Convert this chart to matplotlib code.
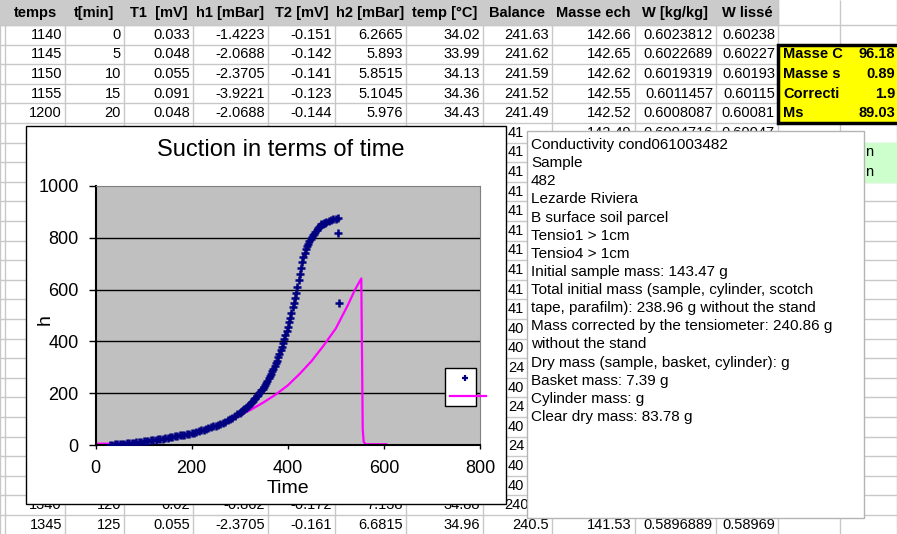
import matplotlib.pyplot as plt
from matplotlib.patches import Rectangle
from matplotlib.transforms import Bbox, TransformedBbox

plt.rcParams['font.family'] = ['Liberation Sans', 'DejaVu Sans']

# ---- chart data ----
# measured suction (h) vs time
meas_time = (list(range(30, 300, 5))
             + [300 + 2.5 * i for i in range(73)]
             + [485, 490, 495, 500, 505]
             + [505, 507])
meas_h = [0, 1, 2, 2, 3, 4, 5, 6, 7, 8, 9,
          11, 12, 13, 14, 15, 17, 18, 19, 21, 22,
          24, 25, 27, 28, 30, 32, 33, 35, 37, 38,
          40, 42, 43, 45, 48, 50, 53, 56, 59, 62,
          65, 68, 72, 75, 78, 82, 86, 90, 95, 100,
          105, 111, 118,
          # 300 -> 480 every 2.5 min
          125, 128, 132, 136, 140, 144, 148, 152, 156, 161,
          165, 170, 176, 182, 188, 193, 199, 205, 211, 217,
          224, 232, 240, 249, 258, 267, 276, 285, 295, 305,
          315, 326, 338, 351, 365, 380, 395, 410, 425, 440,
          456, 473, 490, 511, 532, 550, 568, 588, 610, 636,
          662, 685, 705, 724, 742, 756, 768, 777, 786, 794,
          802, 809, 816, 823, 830, 836, 842, 847, 852, 855,
          857, 859, 861,
          864, 867, 871, 874, 878,
          820, 550]

# second series (line)
line_time = [0, 25, 50, 75, 100, 125, 150, 175, 200, 225, 250, 275, 300, 325,
             350, 375, 400, 425, 450, 475, 500, 525, 540, 553, 556, 558, 562, 605]
line_h = [5, 5, 7, 10, 13, 19, 27, 35, 44, 57, 72, 91, 114, 138,
          165, 195, 230, 275, 325, 385, 450, 540, 600, 643, 60, 12, 3, 3]

# ---- spreadsheet around the chart ----
col_edges = [0, 5, 65, 124, 193, 268, 335, 406, 483, 552, 635, 716, 778, 840, 897]
headers = ['temps', 't[min]', 'T1  [mV]', 'h1 [mBar]', 'T2 [mV]', 'h2 [mBar]',
           'temp [°C]', 'Balance', 'Masse ech', 'W [kg/kg]', 'W lissé']
rows = {
    0: ['1140', '0', '0.033', '-1.4223', '-0.151', '6.2665', '34.02', '241.63', '142.66', '0.6023812', '0.60238'],
    1: ['1145', '5', '0.048', '-2.0688', '-0.142', '5.893', '33.99', '241.62', '142.65', '0.6022689', '0.60227'],
    2: ['1150', '10', '0.055', '-2.3705', '-0.141', '5.8515', '34.13', '241.59', '142.62', '0.6019319', '0.60193'],
    3: ['1155', '15', '0.091', '-3.9221', '-0.123', '5.1045', '34.36', '241.52', '142.55', '0.6011457', '0.60115'],
    4: ['1200', '20', '0.048', '-2.0688', '-0.144', '5.976', '34.43', '241.49', '142.52', '0.6008087', '0.60081'],
    24: ['1340', '120', '0.02', '-0.862', '-0.172', '7.138', '34.88', '240.56'],
    25: ['1345', '125', '0.055', '-2.3705', '-0.161', '6.6815', '34.96', '240.5', '141.53', '0.5896889', '0.58969'],
}
# row partly hidden under the note box (Masse ech, W, W lissé)
row5 = ['142.49', '0.6004716', '0.60047']
# visible pieces of the Balance column between the chart and the note box
balance_bits = ['41'] * 10 + ['40', '40', '24', '40', '24', '40', '24', '40', '40']
yellow_labels = ['Masse C', 'Masse s', 'Correcti', 'Ms']
yellow_values = ['96.18', '0.89', '1.9', '89.03']
note_lines = ['Conductivity cond061003482', 'Sample', '482', 'Lezarde Riviera',
              'B surface soil parcel', 'Tensio1 > 1cm', 'Tensio4 > 1cm',
              'Initial sample mass: 143.47 g',
              'Total initial mass (sample, cylinder, scotch',
              'tape, parafilm): 238.96 g without the stand',
              'Mass corrected by the tensiometer: 240.86 g',
              'without the stand',
              'Dry mass (sample, basket, cylinder): g',
              'Basket mass: 7.39 g', 'Cylinder mass: g', 'Clear dry mass: 83.78 g']

W, H = 897, 534
fig = plt.figure(figsize=(W / 100, H / 100), dpi=100)
bg = fig.add_axes([0, 0, 1, 1])
bg.set_xlim(0, W)
bg.set_ylim(H, 0)
bg.axis('off')

head_h = 25
row_h = 19.6
grid_c = '#c8c8c8'
fs = 10.5

bg.add_patch(Rectangle((0, 0), 778, head_h, color='#cbcbcb', zorder=0))
bg.vlines(col_edges, head_h, H, color=grid_c, lw=1, zorder=0.5)
bg.vlines(col_edges[-3:], 0, head_h, color=grid_c, lw=1, zorder=0.5)
for k in range(27):
    bg.axhline(head_h + k * row_h, color=grid_c, lw=1, zorder=0.5)

for j, name in enumerate(headers):
    xc = (col_edges[j + 1] + col_edges[j + 2]) / 2
    bg.text(xc, 13, name, ha='center', va='center', fontsize=fs, fontweight='bold')

def row_y(k):
    return head_h + row_h * (k + 0.5)

for k, vals in rows.items():
    for j, v in enumerate(vals):
        bg.text(col_edges[j + 2] - 3, row_y(k), v, ha='right', va='center',
                fontsize=fs, zorder=1)

clip5 = TransformedBbox(Bbox([[0, 0], [W, 131]]), bg.transData)
for j, v in enumerate(row5):
    t = bg.text(col_edges[j + 10] - 3, row_y(5), v, ha='right', va='center',
                fontsize=fs, zorder=1, clip_on=True)
    t.set_clip_box(clip5)

for i, v in enumerate(balance_bits):
    bg.text(508, row_y(5 + i), v, ha='left', va='center', fontsize=fs, zorder=1)

# yellow summary block
bg.add_patch(Rectangle((778, head_h + row_h), 140, 4 * row_h, facecolor='#ffff00',
                       edgecolor='black', lw=2.5, zorder=2))
for i, (lab, v) in enumerate(zip(yellow_labels, yellow_values)):
    bg.text(783, row_y(1 + i), lab, ha='left', va='center', fontsize=fs,
            fontweight='bold', zorder=3)
    bg.text(895, row_y(1 + i), v, ha='right', va='center', fontsize=fs,
            fontweight='bold', zorder=3)

# green cells
bg.add_patch(Rectangle((840, head_h + 6 * row_h), 57, 2 * row_h, color='#ccffcc', zorder=1))
for i in range(2):
    bg.text(865, row_y(6 + i), 'n', ha='left', va='center', fontsize=fs, zorder=2)

# chart frame
bg.add_patch(Rectangle((26, 126), 480, 378, facecolor='white', edgecolor='black',
                       lw=1, zorder=5))

# note box
bg.add_patch(Rectangle((527, 131), 337, 387, facecolor='white', edgecolor='#b4b4b4',
                       lw=1, zorder=5))
for i, line in enumerate(note_lines):
    bg.text(531, 145 + i * 18.13, line, ha='left', va='center', fontsize=11, zorder=6)

# ---- chart ----
px_l, px_r, px_t, px_b = 95.5, 480, 186, 445
ax = fig.add_axes([px_l / W, 1 - px_b / H, (px_r - px_l) / W, (px_b - px_t) / H])
ax.set_facecolor('#c0c0c0')
ax.plot(line_time, line_h, color='#ff00ff', lw=1.6, zorder=2)
ax.plot(meas_time, meas_h, linestyle='none', marker='+', color='#000080',
        ms=5.5, mew=1.8, zorder=3)
ax.set_xlim(0, 800)
ax.set_ylim(0, 1000)
ax.set_xticks([0, 200, 400, 600, 800])
ax.set_yticks([0, 200, 400, 600, 800, 1000])
for yv in [200, 400, 600, 800]:
    ax.axhline(yv, color='black', lw=1, zorder=1)
for s in ['top', 'right']:
    ax.spines[s].set_color('#808080')
for s in ['left', 'bottom']:
    ax.spines[s].set_linewidth(1.5)
ax.tick_params(axis='y', direction='out', length=5, width=1, labelsize=13, pad=7)
ax.tick_params(axis='x', direction='out', length=3, width=1, labelsize=13, pad=8)
ax.set_xlabel('Time', fontsize=14, labelpad=2)
ax.set_ylabel('h', fontsize=14)
ax.yaxis.set_label_coords((54 - px_l) / (px_r - px_l), (px_b - 320) / (px_b - px_t))

# legend box (no labels)
def ax_pt(px, py):
    return (px - px_l) / (px_r - px_l), (px_b - py) / (px_b - px_t)

x0, y0 = ax_pt(445, 406)
x1, y1 = ax_pt(476, 368)
ax.add_patch(Rectangle((x0, y0), x1 - x0, y1 - y0, transform=ax.transAxes,
                       facecolor='white', edgecolor='black', lw=1, zorder=4))
mx, my = ax_pt(465, 378)
ax.plot([mx], [my], transform=ax.transAxes, marker='+', color='#000080',
        ms=4, mew=1.6, zorder=5)
lx0, ly = ax_pt(450, 396)
lx1, _ = ax_pt(486, 396)
ax.plot([lx0, lx1], [ly, ly], transform=ax.transAxes, color='#ff00ff', lw=1.6,
        zorder=5, clip_on=False)

fig.text(281 / W, 1 - 150 / H, 'Suction in terms of time', ha='center', va='center',
         fontsize=17)

fig.savefig('out.png', dpi=100)
